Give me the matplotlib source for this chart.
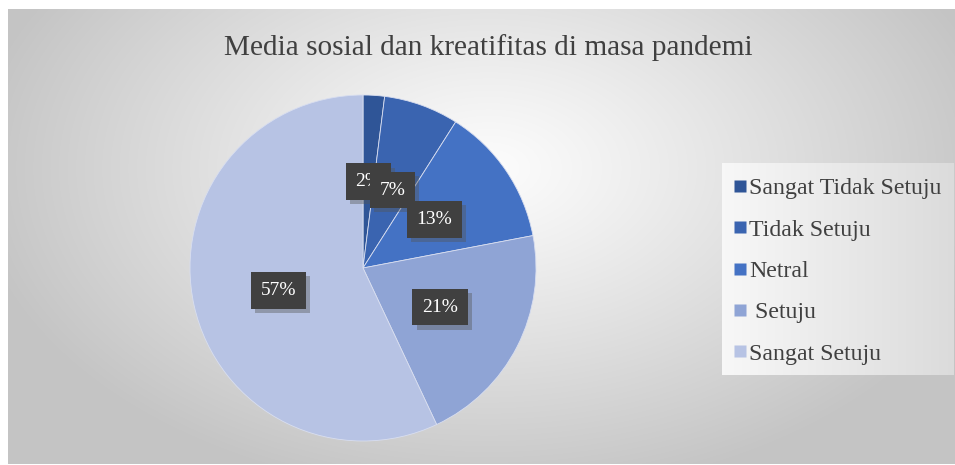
import numpy as np
import matplotlib
matplotlib.use("Agg")
import matplotlib.pyplot as plt
import matplotlib.patheffects as pe

title = "Media sosial dan kreatifitas di masa pandemi"
categories = ["Sangat Tidak Setuju", "Tidak Setuju", "Netral", " Setuju", "Sangat Setuju"]
values = [2, 7, 13, 21, 57]
colors = ["#2F5597", "#3A64B0", "#4472C4", "#8FA4D5", "#B7C3E4"]

W, H = 955, 465
fig = plt.figure(figsize=(W / 100, H / 100), dpi=100, facecolor="white")

def fx(px):
    return px / W

def fy(py):
    return 1 - py / H

# background panel with radial gradient
bg = fig.add_axes([fx(8), fy(464), fx(955 - 8), (464 - 9) / H])
bg.set_axis_off()
yy, xx = np.mgrid[0:456, 0:947]
cx, cy = 480, 160
d = np.sqrt(((xx - cx) / 520.0) ** 2 + ((yy - cy) / 330.0) ** 2)
val = 0.99 - 0.22 * np.clip(d, 0, 1) ** 1.1
img = np.dstack([val, val, val])
bg.imshow(img, aspect="auto", extent=[0, 1, 0, 1], origin="upper")
bg.set_xlim(0, 1)
bg.set_ylim(0, 1)

# legend panel gradient
lg = fig.add_axes([fx(722), fy(375), fx(953 - 722), (375 - 163) / H])
lg.set_axis_off()
gx = np.linspace(0.97, 0.86, 200)
lg.imshow(np.dstack([gx, gx, gx]).repeat(20, axis=0),
          aspect="auto", extent=[0, 1, 0, 1])
lg.set_xlim(0, 1)
lg.set_ylim(0, 1)

# pie
R = 173
pcx, pcy = 363, 268
ax = fig.add_axes([fx(pcx - R), fy(pcy + R), 2 * R / W, 2 * R / H])
ax.set_axis_off()
wedges, texts, autotexts = ax.pie(
    values, colors=colors, startangle=90, counterclock=False,
    autopct=lambda p: f"{p:.0f}%", pctdistance=0.5, radius=1,
    wedgeprops=dict(edgecolor="#d8def0", linewidth=0.6),
    textprops=dict(color="white", fontsize=14, family="Liberation Serif"))
ax.set_xlim(-1, 1)
ax.set_ylim(-1, 1)

x0, y0 = autotexts[1].get_position()
autotexts[1].set_position((x0, y0 - 0.02))
x0, y0 = autotexts[4].get_position()
autotexts[4].set_position((x0, y0 - 0.02))

for t in autotexts:
    t.set_bbox(dict(boxstyle="square,pad=0.5", facecolor="#404040", edgecolor="none"))
    t.get_bbox_patch().set_path_effects([
        pe.SimplePatchShadow(offset=(3, -3), shadow_rgbFace="#555555", alpha=0.4),
        pe.Normal()])

fig.text(fx(488), fy(48), title, ha="center", va="center",
         fontsize=21.1, family="Liberation Serif", color="#404040")

handles = [plt.Line2D([], [], marker="s", linestyle="none", markersize=8.5,
                      markerfacecolor=c, markeredgecolor="none") for c in colors]
fig.legend(handles, categories, loc="upper left",
           bbox_to_anchor=(fx(716), fy(161)), frameon=False,
           prop=dict(family="Liberation Serif", size=17.2),
           labelcolor="#404040", handlelength=0.6, handletextpad=0.08,
           labelspacing=0.82, borderpad=0.2)

fig.savefig("out.png", dpi=100, facecolor="white")
